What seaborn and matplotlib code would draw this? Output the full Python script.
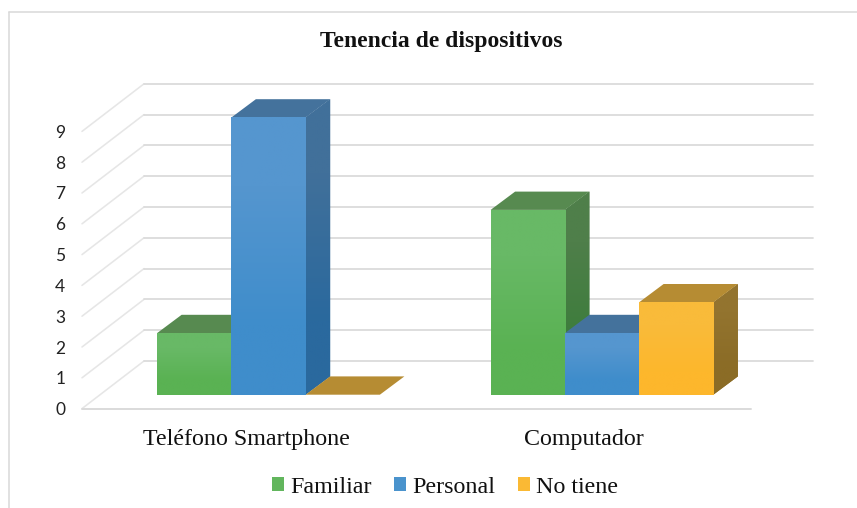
import numpy as np
import pandas as pd
import matplotlib
matplotlib.use("Agg")
import matplotlib.pyplot as plt
from matplotlib.colors import to_rgb
from matplotlib.lines import Line2D
from matplotlib.patches import Polygon
import seaborn as sns

categories = ["Teléfono Smartphone", "Computador"]
series_names = ["Familiar", "Personal", "No tiene"]
familiar = [2, 6]
personal = [9, 2]
no_tiene = [0, 3]
y_ticks = list(range(10))

W, H = 857, 508
PX_CAT, PX_UNIT = 333.5, 30.8     # pixels per category step / per value unit
BAR_DX, BAR_DY = 24.5 / PX_CAT, 18.3 / PX_UNIT
WALL_DX, WALL_DY = 62.0 / PX_CAT, 47.6 / PX_UNIT
FLOOR = 13.9 / PX_UNIT            # front floor lies below the bars' base

palette = {"Familiar": "#62b65d", "Personal": "#4a93cd", "No tiene": "#fab934"}
front = {"Familiar": ("#68b966", "#5ab253"), "Personal": ("#5596cf", "#3f8dcb"), "No tiene": ("#f9bb3a", "#fdb72c")}
side = {"Familiar": ("#4f7f4a", "#3c7d3b"), "Personal": ("#41709a", "#2a699e"), "No tiene": ("#93742f", "#8b6c26")}
top = {"Familiar": "#578a50", "Personal": "#44729c", "No tiene": "#b68c33"}

df = pd.DataFrame({
    "cat": np.repeat(categories, 3),
    "serie": series_names * 2,
    "val": [v for pair in zip(familiar, personal, no_tiene) for v in pair],
})

sns.set_theme(style="white")
fig = plt.figure(figsize=(W / 100, H / 100), dpi=100, facecolor="white")
ax = fig.add_axes([82 / W, 1 - 408.6 / H, (813 - 82) / W, (408.6 - 84) / H])
sns.barplot(data=df, x="cat", y="val", hue="serie", order=categories, hue_order=series_names,
            palette=palette, saturation=1, width=0.668, gap=0, dodge=True,
            errorbar=None, linewidth=0, ax=ax, zorder=6)
xlim = ((82 - 268.5) / PX_CAT, (813 - 268.5) / PX_CAT)
ylim = (-FLOOR, (394.7 - 84) / PX_UNIT)

# Walls and gridlines
grid_c = "#dbdbdb"
diag_c = "#e6e6e6"
x0, x1 = xlim
for k in y_ticks:
    y = k - FLOOR
    ax.plot([x0, x0 + WALL_DX], [y, y + WALL_DY], color=diag_c, lw=1.15, clip_on=False, zorder=1)
    ax.plot([x0 + WALL_DX, x1], [y + WALL_DY, y + WALL_DY], color=grid_c, lw=1.3, clip_on=False, zorder=1)
ax.plot([x0, x1 - WALL_DX], [-FLOOR, -FLOOR], color=grid_c, lw=1.4, clip_on=False, zorder=1)


def gradient(c_top, c_bot, extent, z, clip=None):
    img = np.array([[to_rgb(c_top)], [to_rgb(c_bot)]])
    im = ax.imshow(img, extent=extent, origin="upper", aspect="auto",
                   interpolation="bilinear", zorder=z)
    if clip is not None:
        im.set_clip_path(clip)


# 3D faces derived from the bars seaborn drew
order = 0
for i_cat in range(len(categories)):
    for name, cont in zip(series_names, ax.containers):
        bar = cont[i_cat]
        bx, bw, bh = bar.get_x(), bar.get_width(), bar.get_height()
        z = 3 + order * 0.1
        order += 1
        # side face
        if bh > 0:
            poly = Polygon([(bx + bw, 0), (bx + bw + BAR_DX, BAR_DY),
                            (bx + bw + BAR_DX, bh + BAR_DY), (bx + bw, bh)],
                           closed=True, fc=side[name][0], lw=0, zorder=z)
            ax.add_patch(poly)
            gradient(side[name][0], side[name][1], (bx + bw, bx + bw + BAR_DX, 0, bh + BAR_DY), z + 0.01, poly)
        # top face
        ax.add_patch(Polygon([(bx, bh), (bx + bw, bh), (bx + bw + BAR_DX, bh + BAR_DY), (bx + BAR_DX, bh + BAR_DY)],
                             closed=True, fc=top[name], lw=0, zorder=z + 0.02))
        # front gradient
        if bh > 0:
            gradient(front[name][0], front[name][1], (bx, bx + bw, 0, bh), 7)

ax.set_xlim(*xlim)
ax.set_ylim(*ylim)
for s in ax.spines.values():
    s.set_visible(False)
ax.set_xlabel("")
ax.set_ylabel("")

ax.set_yticks([k - FLOOR for k in y_ticks])
ax.set_yticklabels([str(k) for k in y_ticks], family="Lato", fontsize=12.5, color="#222222")
ax.set_xticks([-0.0675, 0.945])
ax.set_xticklabels(categories, family="Liberation Serif", fontsize=17.3, color="#111111")
ax.tick_params(axis="y", length=0, pad=12)
ax.tick_params(axis="x", length=0, pad=14.5)

fig.text(441.5 / W, 1 - 41 / H, "Tenencia de dispositivos", family="Liberation Serif",
         fontweight="bold", fontsize=17, color="#111111", ha="center", va="center")

sns.move_legend(ax, "center", bbox_to_anchor=(445 / W, 1 - 487.5 / H),
                bbox_transform=fig.transFigure, ncol=3, frameon=False, title=None,
                handlelength=0.52, handleheight=0.52, handletextpad=0.25, columnspacing=0.92,
                prop={"family": "Liberation Serif", "size": 17.3})
for t in ax.get_legend().get_texts():
    t.set_color("#111111")

# Chart frame
fig.add_artist(Line2D([9 / W, 9 / W], [0, 1 - 11.5 / H], color="#d9d9d9", lw=1.1))
fig.add_artist(Line2D([9 / W, 1], [1 - 11.5 / H, 1 - 11.5 / H], color="#d9d9d9", lw=1.1))

fig.savefig("out.png", dpi=100, facecolor="white")
